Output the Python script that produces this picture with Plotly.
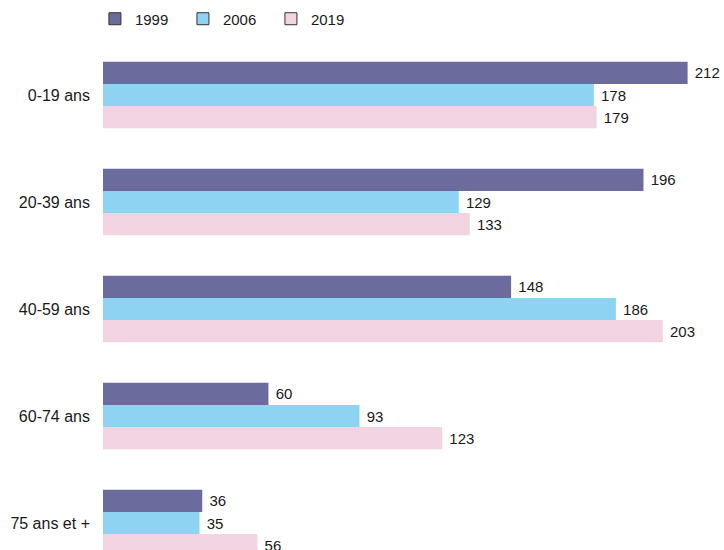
import plotly.graph_objects as go

categories = ["0-19 ans", "20-39 ans", "40-59 ans", "60-74 ans", "75 ans et +"]
years = ["1999", "2006", "2019"]
v1999 = [212, 196, 148, 60, 36]
v2006 = [178, 129, 186, 93, 35]
v2019 = [179, 133, 203, 123, 56]
colors = ["#6b6b9e", "#8fd3f3", "#f2d3e1"]

fig = go.Figure()
for name, vals, col in zip(years, [v1999, v2006, v2019], colors):
    fig.add_trace(go.Bar(
        y=categories, x=vals, orientation="h", name=name,
        marker=dict(color=col, line=dict(width=0)),
        text=[" " + str(v) for v in vals], textposition="outside",
        constraintext="none", cliponaxis=False,
        textfont=dict(size=15, color="#1a1a1a"),
        showlegend=False,
    ))
    fig.add_trace(go.Bar(
        y=[None], x=[None], orientation="h", name=name, yaxis="y2",
        marker=dict(color=col, line=dict(width=1, color="#333333")),
        showlegend=True,
    ))

fig.update_layout(
    width=724, height=550,
    margin=dict(l=103, r=0, t=40, b=0),
    paper_bgcolor="white", plot_bgcolor="white",
    font=dict(family="Liberation Sans, Arial, sans-serif", size=15, color="#1a1a1a"),
    barmode="group", bargap=0.38, bargroupgap=0,
    legend=dict(orientation="h", x=-0.013, xanchor="left", y=0.9655, yref="container",
                yanchor="middle", font=dict(size=15), itemwidth=30,
                entrywidth=43, entrywidthmode="pixels", traceorder="normal"),
    xaxis=dict(range=[0, 225.2], showgrid=False, zeroline=False, showticklabels=False,
               showline=False, ticks="", automargin=False),
    yaxis=dict(type="category", categoryorder="array", categoryarray=categories,
               range=[4.252, -0.514], showgrid=False, zeroline=False, showline=False,
               ticks="", ticklabelstandoff=12, tickfont=dict(size=16), automargin=False),
    yaxis2=dict(overlaying="y", visible=False, range=[0, 1]),
)

fig.write_html(
    "out.html",
    config={"displayModeBar": False},
    post_script="document.body.style.margin='0';document.body.style.overflow='hidden';",
)
